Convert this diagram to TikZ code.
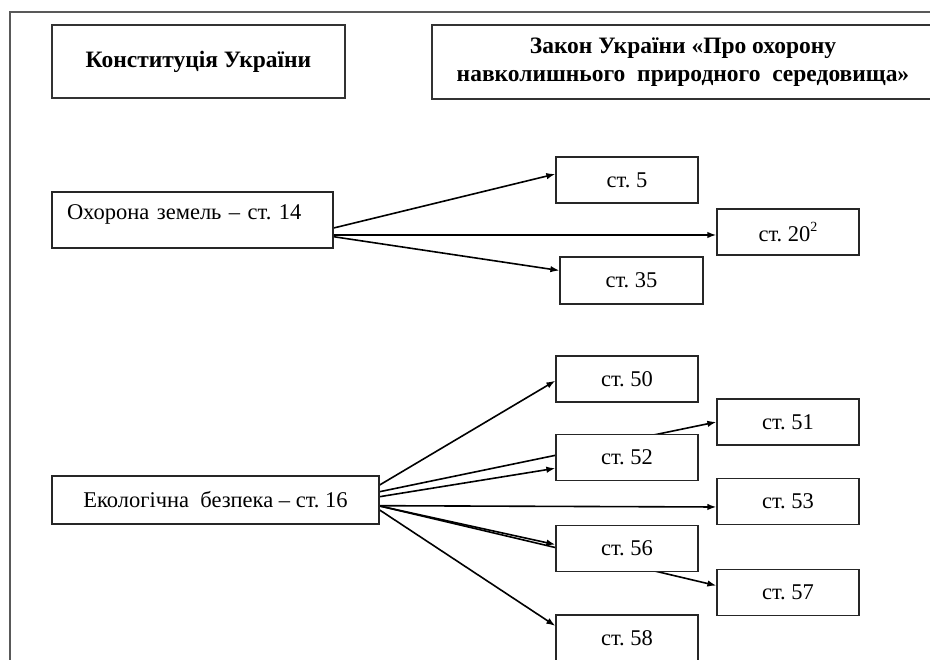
\documentclass[tikz,border=0pt]{standalone}
\usepackage{fontspec}
\setmainfont{Liberation Serif}
\usetikzlibrary{positioning,arrows.meta,backgrounds}
\frenchspacing
\newcommand{\supnum}[1]{\raisebox{0.42em}{\fontsize{14}{14}\selectfont #1}}

\begin{document}
\begin{tikzpicture}[x=1pt, y=-1pt, >={Latex[length=9pt,width=6.5pt]},
  font=\fontsize{22.5}{28}\selectfont,
  frame/.style={draw=black!65, line width=2pt},
  head/.style={draw=black!80, line width=1.3pt, fill=white, rectangle, inner sep=0pt, font=\fontsize{23.5}{28}\selectfont\bfseries},
  srcbox/.style={draw=black!85, line width=1.3pt, fill=white, rectangle, inner sep=0pt},
  artbox/.style={draw=black!85, line width=1.3pt, fill=white, rectangle, minimum width=142pt, minimum height=46pt, inner sep=0pt},
  link/.style={->, line width=1.6pt}]
  \useasboundingbox (0,0) rectangle (930,660);
  \clip (0,0) rectangle (930,660);
  \draw[frame] (10,680) -- (10,12) -- (950,12);

  \node[head, minimum width=293pt, minimum height=73pt] (konst) at (198.5,61.5) {Конституція України};
  \node[head, minimum width=502pt, minimum height=74pt, align=center] (zakon) at (683,62) {Закон України «Про охорону\\навколишнього \ природного \ середовища»};

  \node[srcbox, minimum width=281pt, minimum height=56pt, text width=251pt, align=left, inner xsep=15pt, inner ysep=4pt, text height=23.5pt, text depth=24.5pt] (okhor) at (192.5,220) {Охорона земель – ст. 14};
  \node[srcbox, minimum width=327pt, minimum height=48pt] (ecol) at (215.5,500) {Екологічна \ безпека – ст. 16};

  \node[artbox] (s5) at (627,180) {ст. 5};
  \node[artbox] (s20) at (788,232) {ст. 20\supnum{2}};
  \node[artbox, minimum width=143pt, minimum height=47pt] (s35) at (631.5,280.5) {ст. 35};

  \node[artbox] (s50) at (627,379) {ст. 50};
  \node[artbox, below=31pt of s50] (s52) {ст. 52};
  \node[artbox, below=44pt of s52] (s56) {ст. 56};
  \node[artbox, below=42pt of s56] (s58) {ст. 58};
  \node[artbox] (s51) at (788,422) {ст. 51};
  \node[artbox, below=32pt of s51] (s53) {ст. 53};
  \node[artbox, below=44pt of s53] (s57) {ст. 57};

  \begin{pgfonlayer}{background}
    \draw[link] ([yshift=-8pt]okhor.east) -- ([yshift=6pt]s5.west);
    \draw[link] ([yshift=-15pt]okhor.east) -- ([yshift=-3pt]s20.west);
    \draw[link] ([yshift=-16.7pt]okhor.east) -- ([yshift=10pt]s35.west);

    \draw[link] ([yshift=15pt]ecol.east) -- ([yshift=-1.7pt]s50.west);
    \draw[link] ([yshift=8.3pt]ecol.east) -- (s51.west);
    \draw[link] ([yshift=3.3pt]ecol.east) -- ([yshift=-11pt]s52.west);
    \draw[link] ([yshift=-5.7pt]ecol.east) -- ([yshift=-5.7pt]s53.west);
    \draw[link] ([yshift=-6pt]ecol.east) -- ([yshift=4pt]s56.west);
    \draw[link] ([yshift=-6pt]ecol.east) -- ([yshift=7pt]s57.west);
    \draw[link] ([yshift=-10pt]ecol.east) -- ([yshift=12pt]s58.west);
  \end{pgfonlayer}
\end{tikzpicture}
\end{document}
